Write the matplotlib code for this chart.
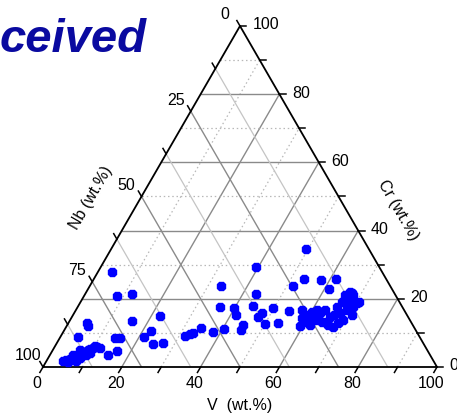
import numpy as np
import matplotlib
matplotlib.use('Agg')
import matplotlib.pyplot as plt

# compositions (wt.%), Nb = 100 - V - Cr
v_pct = [4.2, 4.8, 5.7, 6.0, 6.7, 7.3, 8.1, 8.1, 8.4, 8.7, 8.9, 9.3, 9.9, 10.1, 10.8, 11.7,
         9.2, 7.5, 5.6, 9.9, 6.9, 5.9,
         4.5, 4.6, 5.3, 3.7, 8.4, 12.0, 15.7, 14.0, 15.3, 16.3, 14.9, 22.1, 22.1, 21.3,
         24.7, 27.0, 31.4, 32.5, 33.2, 34.3, 38.1, 33.2, 36.3, 40.4, 39.9, 41.3, 44.6,
         44.8, 44.2, 43.2, 39.4, 47.2, 47.8, 50.0, 49.8, 53.3, 54.3, 51.5, 53.4, 49.4,
         57.8, 61.5, 61.2,
         57.3, 59.3, 59.9, 61.6, 62.1, 62.4, 63.2, 65.5, 65.4, 66.1, 65.7, 66.2, 66.1,
         67.7, 67.5, 70.3, 68.7, 70.7, 69.3, 68.5, 67.8, 66.3, 67.5, 69.9, 61.1, 61.1,
         70.5, 66.9, 68.1, 58.6, 60.2, 68.1, 67.5, 64.2, 59.2]
cr_pct = [1.8, 2.1, 2.4, 2.6, 2.9, 3.2, 2.6, 3.5, 4.1, 4.4, 5.0, 5.3, 5.6, 6.2, 5.9, 5.6,
          3.5, 1.8, 1.5, 4.1, 5.0, 3.5,
          8.9, 13.0, 12.0, 27.8, 20.9, 21.4, 13.6, 8.5, 8.4, 4.8, 3.4, 15.0, 10.7, 8.9,
          6.6, 7.0, 9.2, 9.6, 9.9, 11.5, 10.2, 23.8, 17.5, 11.1, 17.2, 15.3, 12.3,
          10.9, 18.0, 21.5, 29.4, 14.8, 15.8, 12.6, 17.3, 12.8, 16.4, 23.7, 25.8, 34.6,
          25.5, 25.8, 22.8,
          16.7, 15.3, 13.3, 12.3, 13.8, 15.8, 16.7, 14.8, 13.3, 15.3, 17.7, 19.2, 21.1,
          19.7, 21.6, 18.7, 16.7, 15.3, 13.8, 12.8, 11.8, 12.3, 15.8, 17.7, 16.7, 14.3,
          19.2, 22.1, 21.1, 14.4, 16.1, 18.2, 20.2, 13.2, 12.0]

v_ticks = [0, 20, 40, 60, 80, 100]
cr_ticks = [0, 20, 40, 60, 80, 100]
nb_ticks = [0, 25, 50, 75, 100]

H = np.sqrt(3) / 2


def to_xy(v, cr):
    v = np.asarray(v, dtype=float) / 100
    cr = np.asarray(cr, dtype=float) / 100
    return v + cr / 2, cr * H


def main():
    plt.rcParams['font.family'] = ['Liberation Sans', 'DejaVu Sans']
    fig = plt.figure(figsize=(4.57, 4.17), dpi=100)
    ax = fig.add_axes([43 / 457, 50 / 417, 394 / 457, 341 / 417])
    ax.set_xlim(0, 1)
    ax.set_ylim(0, H)
    ax.axis('off')

    major = dict(color='#8a8a8a', lw=1.0, zorder=1)
    minor = dict(color='#b8b8b8', lw=0.9, ls=(0, (1.2, 2.2)), zorder=1)
    light = dict(color='#c4c4c4', lw=0.9, zorder=1)

    # Cr (horizontal) and V grid lines
    for k in range(10, 100, 10):
        style = major if k % 20 == 0 else minor
        x, y = to_xy([0, 100 - k], [k, k])
        ax.plot(x, y, **style)
        x, y = to_xy([k, k], [0, 100 - k])
        ax.plot(x, y, **style)
    # Nb grid lines
    for n in np.arange(12.5, 100, 12.5):
        style = major if n % 25 == 0 else light
        x, y = to_xy([100 - n, 0], [0, 100 - n])
        ax.plot(x, y, **style)

    # frame
    x, y = to_xy([0, 100, 0, 0], [0, 0, 100, 0])
    ax.plot(x, y, color='black', lw=1.3, zorder=3, clip_on=False)

    tl = 0.016
    fs = 11.5
    # V ticks (bottom)
    for k in range(0, 101, 10):
        x, y = to_xy(k, 0)
        ax.plot([x, x - 0.5 * tl], [y, y - H * tl], color='black', lw=1.1, clip_on=False)
    for k in v_ticks:
        x, y = to_xy(k, 0)
        ax.text(x - 0.015, y - 0.042, str(k), ha='center', va='center', fontsize=fs)
    # Cr ticks (right)
    for k in range(0, 101, 10):
        x, y = to_xy(100 - k, k)
        ax.plot([x, x + tl], [y, y], color='black', lw=1.1, clip_on=False)
    for k in cr_ticks:
        x, y = to_xy(100 - k, k)
        ax.text(x + 0.032, y + 0.003, str(k), ha='left', va='center', fontsize=fs)
    # Nb ticks (left)
    for n in np.arange(0, 100.1, 12.5):
        x, y = to_xy(0, 100 - n)
        ax.plot([x, x - 0.5 * tl], [y, y + H * tl], color='black', lw=1.1, clip_on=False)
    for n in nb_ticks:
        x, y = to_xy(0, 100 - n)
        ax.text(x - 0.038, y + 0.028, str(n), ha='center', va='center', fontsize=fs)

    ax.text(0.5, -0.097, 'V  (wt.%)', ha='center', va='center', fontsize=fs)
    ax.text(0.901, 0.398, 'Cr (wt.%)', ha='center', va='center', fontsize=fs, rotation=-60)
    ax.text(0.122, 0.43, 'Nb (wt.%)', ha='center', va='center', fontsize=fs, rotation=60)

    x, y = to_xy(v_pct, cr_pct)
    ax.plot(x, y, ls='none', marker='8', ms=6.2, color='#0000ff', mec='#0000ff', zorder=4,
            clip_on=False)

    fig.text(0.0, (417 - 52) / 417, 'ceived', ha='left', va='baseline', fontsize=34,
             fontweight='bold', fontstyle='italic', color='#0a0aa0')

    fig.savefig('out.png', dpi=100)


if __name__ == '__main__':
    main()
